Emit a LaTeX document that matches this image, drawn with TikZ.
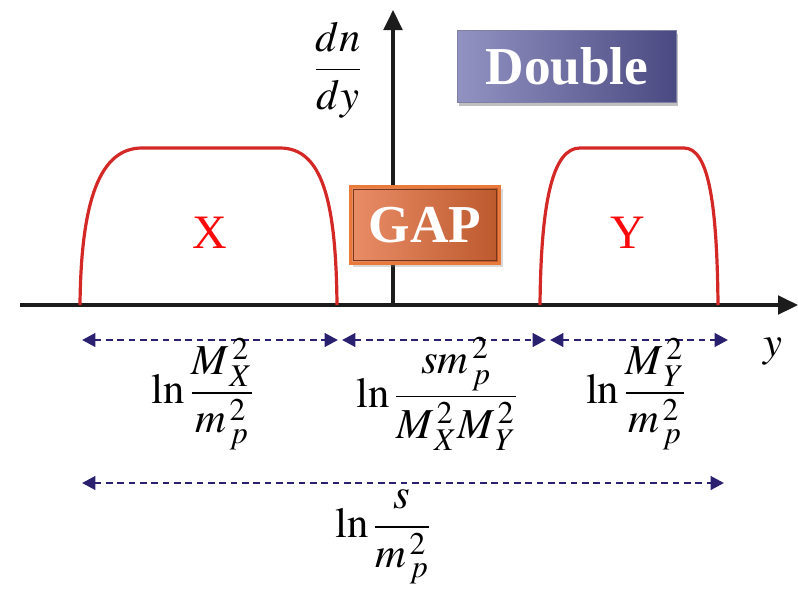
\documentclass[tikz,border=0pt]{standalone}
\usepackage{mathptmx}
\usepackage[no-math]{fontspec}
\setmainfont{Liberation Serif}
\usetikzlibrary{arrows.meta, positioning, shadows}
\definecolor{rojoCurva}{RGB}{212,40,38}
\definecolor{rojoLetra}{RGB}{250,10,10}
\definecolor{azulFlecha}{RGB}{42,32,112}
\definecolor{negroEje}{RGB}{28,28,28}
\definecolor{naranjaClaro}{RGB}{234,142,104}
\definecolor{naranjaOscuro}{RGB}{188,88,44}
\definecolor{bordeNaranja}{RGB}{232,122,58}
\definecolor{bordeCafe}{RGB}{118,52,24}
\definecolor{moradoClaro}{RGB}{146,146,194}
\definecolor{moradoOscuro}{RGB}{74,74,130}
\tikzset{
  ejeLinea/.style={-{Triangle[length=15pt, width=14pt]}, line width=2.6pt, negroEje},
  curvaRoja/.style={draw=rojoCurva, line width=2.4pt},
  flechaRango/.style={{Triangle[length=10pt, width=10pt]}-{Triangle[length=10pt, width=10pt]},
    line width=2.2pt, azulFlecha, dash pattern=on 5pt off 3.5pt},
  etiquetaMate/.style={font=\fontsize{32}{38}\selectfont, inner sep=0pt},
  letraRoja/.style={text=rojoLetra, font=\fontsize{36}{42}\selectfont},
  cajaGap/.style={left color=naranjaClaro, right color=naranjaOscuro,
    draw=bordeNaranja, line width=2.5pt, minimum width=112pt, minimum height=58pt,
    text=white, font=\fontsize{40}{46}\selectfont\bfseries, drop shadow={opacity=0.3}},
  cajaDoble/.style={left color=moradoClaro, right color=moradoOscuro,
    draw=moradoOscuro!70, line width=0.6pt, minimum width=164pt, minimum height=54pt,
    text=white, font=\fontsize{40}{46}\selectfont\bfseries,
    drop shadow={opacity=0.5, shadow xshift=1pt, shadow yshift=-3pt}},
}
\newcommand{\bigsub}[3]{#1^{\,#2}_{\,#3}}
\begin{document}
\begin{tikzpicture}[x=0.75pt, y=-0.75pt]
  \useasboundingbox (0,0) rectangle (798,593);

  % ejes
  \coordinate (origen) at (393,305);
  \coordinate (ejeIzq) at (20,305);
  \coordinate (ejeDer) at (798,305);
  \coordinate (ejeArriba) at (393,10);
  \draw[ejeLinea] (ejeIzq) -- (ejeDer);
  \draw[ejeLinea] (origen) -- (ejeArriba);
  \node[etiquetaMate] (dndy) at (338,70) {$\displaystyle\frac{dn}{dy}$};
  \node[etiquetaMate] (ejeY) at (773,352) {$y$};

  % curvas X y Y
  \draw[curvaRoja] (80,305) .. controls (81,200) and (100,148) .. (142,148)
    -- (280,148) .. controls (322,148) and (336,200) .. (337,305);
  \draw[curvaRoja] (540,305) .. controls (541,200) and (553,148) .. (580,148)
    -- (684,148) .. controls (708,148) and (717,200) .. (718,305);
  \node[letraRoja] (letraX) at (210,233) {X};
  \node[letraRoja] (letraY) at (628,233) {Y};

  % cajas
  \node[cajaGap] (gap) at (425,225) {GAP};
  \draw[bordeCafe, line width=1pt] ([shift={(5,5)}]gap.north west) rectangle ([shift={(-5,-5)}]gap.south east);
  \node[cajaDoble] (doble) at (567,66) {Double};

  % rangos de rapidez
  \coordinate (a1) at (82,340);
  \coordinate (a2) at (338,340);
  \coordinate (b1) at (342,340);
  \coordinate (b2) at (546,340);
  \coordinate (c1) at (550,340);
  \coordinate (c2) at (728,340);
  \coordinate (d1) at (82,483);
  \coordinate (d2) at (724,483);
  \draw[flechaRango] (a1) -- (a2);
  \draw[flechaRango] (b1) -- (b2);
  \draw[flechaRango] (c1) -- (c2);
  \draw[flechaRango] (d1) -- (d2);

  \node[etiquetaMate] (rangoX) at (203,394) {$\displaystyle\ln\frac{\bigsub{M}{2}{X}}{\bigsub{m}{2}{p}}$};
  \node[etiquetaMate] (rangoGap) at (437,394) {$\displaystyle\ln\frac{s\bigsub{m}{2}{p}}{\bigsub{M}{2}{X}\bigsub{M}{2}{Y}}$};
  \node[etiquetaMate] (rangoY) at (636,394) {$\displaystyle\ln\frac{\bigsub{M}{2}{Y}}{\bigsub{m}{2}{p}}$};
  \node[etiquetaMate] (rangoTotal) at (383,537) {$\displaystyle\ln\frac{s}{\bigsub{m}{2}{p}}$};
\end{tikzpicture}
\end{document}
